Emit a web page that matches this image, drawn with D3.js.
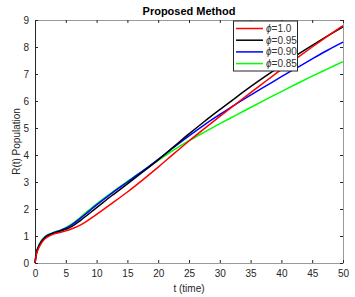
<!DOCTYPE html>
<html>
<head>
<meta charset="utf-8">
<script src="https://cdn.jsdelivr.net/npm/d3@7"></script>
<style>
  body { margin: 0; background: #fff; }
  text { font-family: "Liberation Sans", Arial, sans-serif; }
</style>
</head>
<body>
<svg id="chart"></svg>
<script>
// time samples and the four R(t) curves
var tValues = [0, 0.25, 0.5, 1, 1.5, 2, 3, 4, 5, 6, 7.5, 10, 12.5, 15, 17.5, 20, 22.5, 25, 27.5, 30, 32.5, 35, 37.5, 40, 42.5, 45, 47.5, 50];
var phi100 = [0, 0.33, 0.5, 0.72, 0.87, 0.96, 1.07, 1.13, 1.19, 1.27, 1.42, 1.8, 2.21, 2.63, 3.08, 3.55, 4.04, 4.52, 4.98, 5.43, 5.87, 6.31, 6.74, 7.17, 7.59, 8.0, 8.4, 8.79];
var phi095 = [0, 0.38, 0.55, 0.77, 0.91, 1.0, 1.1, 1.17, 1.25, 1.36, 1.6, 2.05, 2.5, 2.93, 3.37, 3.82, 4.3, 4.78, 5.24, 5.68, 6.11, 6.53, 6.93, 7.32, 7.7, 8.06, 8.41, 8.75];
var phi090 = [0, 0.4, 0.57, 0.79, 0.93, 1.02, 1.12, 1.2, 1.29, 1.42, 1.68, 2.15, 2.59, 3.0, 3.41, 3.84, 4.28, 4.71, 5.12, 5.5, 5.87, 6.22, 6.56, 6.9, 7.23, 7.56, 7.88, 8.18];
var phi085 = [0, 0.42, 0.6, 0.82, 0.95, 1.04, 1.13, 1.21, 1.31, 1.45, 1.72, 2.19, 2.62, 3.02, 3.41, 3.8, 4.18, 4.53, 4.85, 5.16, 5.46, 5.76, 6.06, 6.35, 6.64, 6.92, 7.19, 7.46];
var seriesNames = ['=1.0', '=0.95', '=0.90', '=0.85'];
var seriesColors = ['#ff0000', '#000000', '#0000ff', '#00ff00'];
var xTicks = [0, 5, 10, 15, 20, 25, 30, 35, 40, 45, 50];
var yTicks = [0, 1, 2, 3, 4, 5, 6, 7, 8, 9];

var W = 355, H = 297;
var margin = {top: 20, right: 12, bottom: 34, left: 35};
var width = W - margin.left - margin.right;   // 308
var height = H - margin.top - margin.bottom;  // 243

var svg = d3.select('#chart')
  .attr('width', W)
  .attr('height', H);

var g = svg.append('g')
  .attr('transform', 'translate(' + margin.left + ',' + margin.top + ')');

var x = d3.scaleLinear().domain([0, 50]).range([0, width]);
var y = d3.scaleLinear().domain([0, 9]).range([height, 0]);

var axisColor = '#262626';

// box (top/right)
g.append('line').attr('x1', 0).attr('x2', width).attr('y1', 0.5).attr('y2', 0.5)
  .style('stroke', '#9a9a9a');
g.append('line').attr('x1', width + 0.5).attr('x2', width + 0.5).attr('y1', 0).attr('y2', height)
  .style('stroke', '#9a9a9a');

// bottom axis, ticks pointing inward
var xAxis = g.append('g')
  .attr('transform', 'translate(0,' + height + ')')
  .call(d3.axisBottom(x).tickValues(xTicks).tickSize(-3).tickPadding(7).tickSizeOuter(0));
xAxis.select('.domain').style('stroke', '#9a9a9a');
xAxis.selectAll('.tick line').style('stroke', axisColor);
xAxis.selectAll('text').style('fill', axisColor).style('font-size', '10px');

// top ticks
g.append('g')
  .call(d3.axisTop(x).tickValues(xTicks).tickSize(-3).tickFormat('').tickSizeOuter(0))
  .call(function(a) { a.select('.domain').remove(); a.selectAll('line').style('stroke', axisColor); });

// left axis
var yAxis = g.append('g')
  .call(d3.axisLeft(y).tickValues(yTicks).tickSize(-3).tickPadding(6).tickSizeOuter(0));
yAxis.select('.domain').style('stroke', axisColor);
yAxis.selectAll('.tick line').style('stroke', axisColor);
yAxis.selectAll('text').style('fill', axisColor).style('font-size', '10px');

// right ticks
g.append('g')
  .attr('transform', 'translate(' + width + ',0)')
  .call(d3.axisRight(y).tickValues(yTicks).tickSize(-3).tickFormat('').tickSizeOuter(0))
  .call(function(a) { a.select('.domain').remove(); a.selectAll('line').style('stroke', axisColor); });

// curves
var allSeries = [phi100, phi095, phi090, phi085];
var line = d3.line()
  .x(function(d) { return x(d[0]); })
  .y(function(d) { return y(d[1]); })
  .curve(d3.curveMonotoneX);

// draw green first so the black/red sit on top as in the figure
[3, 2, 1, 0].forEach(function(i) {
  var pts = tValues.map(function(t, j) { return [t, allSeries[i][j]]; });
  g.append('path')
    .datum(pts)
    .attr('d', line)
    .style('fill', 'none')
    .style('stroke', seriesColors[i])
    .style('stroke-width', 1.5);
});

// title and labels
svg.append('text')
  .attr('x', margin.left + width / 2)
  .attr('y', 15)
  .attr('text-anchor', 'middle')
  .style('font-size', '11px')
  .style('font-weight', 'bold')
  .style('fill', '#000')
  .text('Proposed Method');

svg.append('text')
  .attr('x', margin.left + width / 2)
  .attr('y', 292)
  .attr('text-anchor', 'middle')
  .style('font-size', '10px')
  .style('fill', axisColor)
  .text('t (time)');

svg.append('text')
  .attr('transform', 'translate(20,' + (margin.top + height / 2) + ') rotate(-90)')
  .attr('text-anchor', 'middle')
  .style('font-size', '10px')
  .style('fill', axisColor)
  .text('R(t) Population');

// legend
var legend = svg.append('g').attr('transform', 'translate(233,20.5)');
legend.append('rect')
  .attr('x', 0.5).attr('y', 0.5)
  .attr('width', 64).attr('height', 50)
  .style('fill', '#fff')
  .style('stroke', axisColor)
  .style('stroke-width', 1);

seriesNames.forEach(function(name, i) {
  var ly = 8 + i * 11.7;
  legend.append('line')
    .attr('x1', 3).attr('x2', 30)
    .attr('y1', ly).attr('y2', ly)
    .style('stroke', seriesColors[i])
    .style('stroke-width', 1.5);
  var t = legend.append('text')
    .attr('x', 33)
    .attr('y', ly + 3.5)
    .style('font-size', '10px')
    .style('fill', '#333');
  t.append('tspan').style('font-style', 'italic').text('\u03d5');
  t.append('tspan').text(name);
});
</script>
</body>
</html>
